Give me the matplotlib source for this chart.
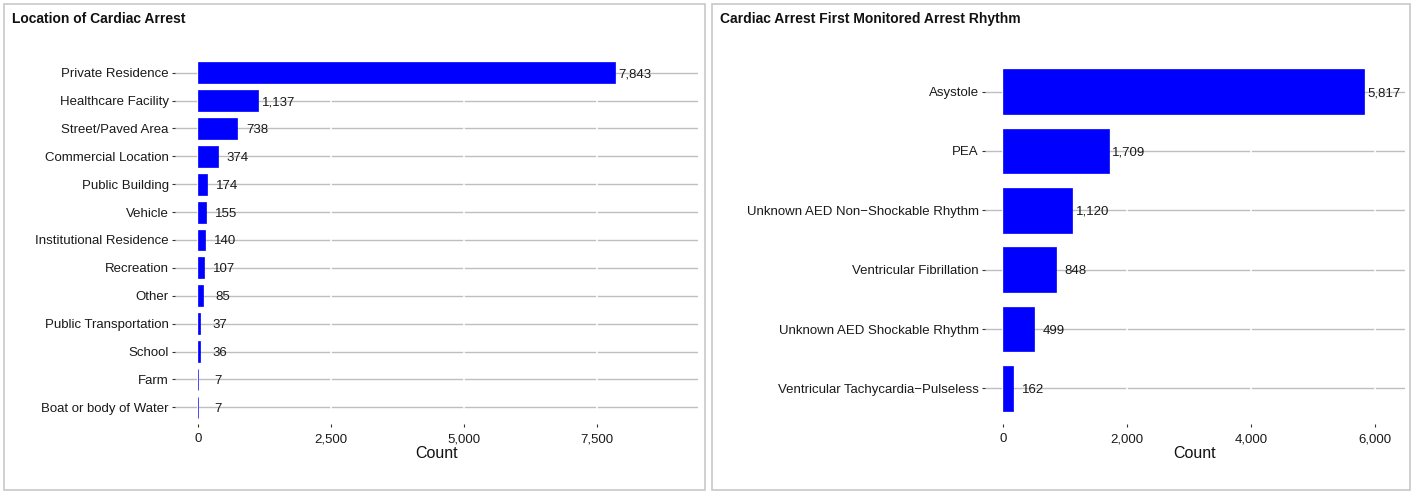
import matplotlib
matplotlib.use("Agg")
import matplotlib.pyplot as plt
from matplotlib.patches import Rectangle
from matplotlib.ticker import FuncFormatter

plt.rcParams["font.family"] = ["Liberation Sans", "DejaVu Sans"]

# Data
loc_labels = [
    "Private Residence", "Healthcare Facility", "Street/Paved Area",
    "Commercial Location", "Public Building", "Vehicle",
    "Institutional Residence", "Recreation", "Other",
    "Public Transportation", "School", "Farm", "Boat or body of Water",
]
loc_counts = [7843, 1137, 738, 374, 174, 155, 140, 107, 85, 37, 36, 7, 7]

rhythm_labels = [
    "Asystole", "PEA", "Unknown AED Non\u2212Shockable Rhythm",
    "Ventricular Fibrillation", "Unknown AED Shockable Rhythm",
    "Ventricular Tachycardia\u2212Pulseless",
]
rhythm_counts = [5817, 1709, 1120, 848, 499, 162]

loc_ticks = [0, 2500, 5000, 7500]
rhythm_ticks = [0, 2000, 4000, 6000]

W, H = 1414, 491
BLUE = "#0000FF"


def px_axes(fig, left, top, right, bottom):
    return fig.add_axes([left / W, (H - bottom) / H, (right - left) / W, (bottom - top) / H])


def panel(fig, left, top, right, bottom, title):
    fig.patches.append(Rectangle((left / W, (H - bottom) / H), (right - left) / W,
                                 (bottom - top) / H, transform=fig.transFigure,
                                 fill=False, edgecolor="#c8c8c8", lw=1.2))
    fig.text((left + 8) / W, (H - 19) / H, title, fontsize=10, fontweight="bold",
             ha="left", va="center", color="#111111")


def hbar(ax, labels, counts, ticks, xlim):
    pos = list(range(len(labels)))
    ax.barh(pos, counts, height=0.75, color=BLUE, edgecolor=BLUE, lw=0.5, zorder=2)
    for p, c in zip(pos, counts):
        ax.annotate(f"{c:,}", (c, p), xytext=(20, 0), textcoords="offset pixels",
                    ha="center", va="center_baseline", fontsize=9.5,
                    color="#1a1a1a", zorder=3)
    ax.set_yticks(pos)
    ax.set_yticklabels(labels)
    ax.set_ylim(len(labels) - 0.4, -0.6)
    ax.set_xlim(*xlim)
    ax.set_xticks(ticks)
    ax.xaxis.set_major_formatter(FuncFormatter(lambda v, _: f"{int(v):,}"))
    for s in ax.spines.values():
        s.set_visible(False)
    ax.yaxis.set_zorder(0.3)
    ax.xaxis.set_zorder(0.5)
    ax.grid(axis="y", color="#bebebe", lw=1.0)
    ax.grid(axis="x", color="white", lw=1.2)
    ax.tick_params(length=2.5, width=0.8, color="#333333", labelsize=9.5,
                   labelcolor="#1a1a1a")
    ax.tick_params(axis="x", pad=4)
    ax.tick_params(axis="y", pad=2)
    ax.set_xlabel("Count", fontsize=11.5, labelpad=1, color="#111111")


fig = plt.figure(figsize=(W / 100, H / 100), dpi=100)

panel(fig, 4, 4, 705, 490, "Location of Cardiac Arrest")
panel(fig, 712, 4, 1410, 490, "Cardiac Arrest First Monitored Arrest Rhythm")

ax1 = px_axes(fig, 175, 56, 698, 424)
hbar(ax1, loc_labels, loc_counts, loc_ticks, (-432, 9398))

ax2 = px_axes(fig, 985, 56, 1405, 424)
hbar(ax2, rhythm_labels, rhythm_counts, rhythm_ticks, (-290, 6484))

fig.savefig("out.png", dpi=100)
